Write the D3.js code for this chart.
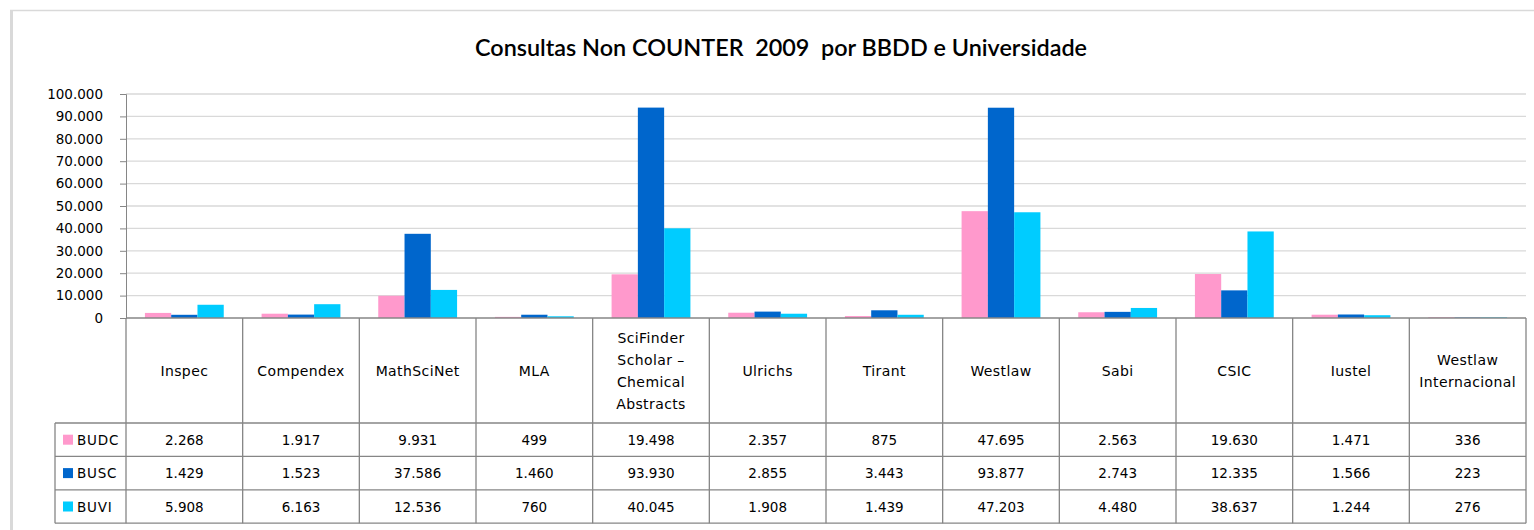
<!DOCTYPE html>
<html>
<head>
<meta charset="utf-8">
<script src="https://cdn.jsdelivr.net/npm/d3@7"></script>
<style>
  body { margin: 0; background: #fff; }
  svg text { font-family: "DejaVu Sans", sans-serif; fill: #000; }
</style>
</head>
<body>
<div id="chart"></div>
<script>
// data
var categories = ["Inspec", "Compendex", "MathSciNet", "MLA", "SciFinder\nScholar \u2013\nChemical\nAbstracts",
                  "Ulrichs", "Tirant", "Westlaw", "Sabi", "CSIC", "Iustel", "Westlaw\nInternacional"];
var seriesNames = ["BUDC", "BUSC", "BUVI"];
var seriesColors = ["#ff99cc", "#0066cc", "#00ccff"];
var budc = [2268, 1917, 9931, 499, 19498, 2357, 875, 47695, 2563, 19630, 1471, 336];
var busc = [1429, 1523, 37586, 1460, 93930, 2855, 3443, 93877, 2743, 12335, 1566, 223];
var buvi = [5908, 6163, 12536, 760, 40045, 1908, 1439, 47203, 4480, 38637, 1244, 276];
var yTicks = [0, 10000, 20000, 30000, 40000, 50000, 60000, 70000, 80000, 90000, 100000];
var title = "Consultas Non COUNTER  2009  por BBDD e Universidade";

var values = [budc, busc, buvi];

var width = 1534, height = 530;
var plot = {left: 126, right: 1526, top: 94, bottom: 318};
var table = {left: 55, header: 423, rowH: 33.4};

var fmt = d3.formatLocale({decimal: ",", thousands: ".", grouping: [3], currency: ["", ""]}).format(",d");

var svg = d3.select("#chart").append("svg")
    .attr("width", width)
    .attr("height", height);

// frame
svg.append("line").attr("x1", 10).attr("x2", width).attr("y1", 10.5).attr("y2", 10.5)
    .style("stroke", "#d9d9d9").style("stroke-width", 1.5);
svg.append("line").attr("x1", 11.5).attr("x2", 11.5).attr("y1", 10).attr("y2", height)
    .style("stroke", "#d9d9d9").style("stroke-width", 3);

svg.append("text")
    .attr("x", 781).attr("y", 56)
    .attr("text-anchor", "middle")
    .style("font-family", "Lato, 'Open Sans', sans-serif")
    .style("font-size", "22px")
    .style("font-weight", 600)
    .style("white-space", "pre")
    .attr("textLength", 612)
    .attr("lengthAdjust", "spacingAndGlyphs")
    .text(title);

var x = d3.scaleBand().domain(d3.range(categories.length)).range([plot.left, plot.right]);
var xs = d3.scaleBand().domain(seriesNames).range([0, x.bandwidth()]).paddingOuter(0.72).paddingInner(0);
var y = d3.scaleLinear().domain([0, 100000]).range([plot.bottom, plot.top]);

// gridlines
svg.append("g").selectAll("line")
    .data(yTicks.slice(1))
    .enter().append("line")
    .attr("x1", plot.left).attr("x2", plot.right)
    .attr("y1", function(d) { return y(d); })
    .attr("y2", function(d) { return y(d); })
    .style("stroke", "#d9d9d9")
    .style("stroke-width", 1.3);

// y axis
var yAxis = svg.append("g")
    .attr("transform", "translate(" + plot.left + ",0)")
    .call(d3.axisLeft(y).tickValues(yTicks).tickFormat(fmt).tickSize(6).tickPadding(17));
yAxis.select(".domain").style("stroke", "#868686");
yAxis.selectAll(".tick line").style("stroke", "#868686");
yAxis.selectAll("text").style("font-size", "13.5px").style("font-family", "'DejaVu Sans', sans-serif");

// bars
var groups = svg.append("g").selectAll("g")
    .data(seriesNames)
    .enter().append("g")
    .style("fill", function(d, i) { return seriesColors[i]; });

groups.selectAll("rect")
    .data(function(d, i) { return values[i].map(function(v, j) { return {s: d, v: v, c: j}; }); })
    .enter().append("rect")
    .attr("x", function(d) { return x(d.c) + xs(d.s); })
    .attr("width", xs.bandwidth())
    .attr("y", function(d) { return y(d.v); })
    .attr("height", function(d) { return y(0) - y(d.v); });

// data table
var lineColor = "#868686";
var tableBottom = table.header + table.rowH * seriesNames.length;
var grid = svg.append("g").style("stroke", lineColor).style("stroke-width", 1.3);

grid.append("line").attr("x1", plot.left).attr("x2", plot.right)
    .attr("y1", plot.bottom).attr("y2", plot.bottom);
d3.range(seriesNames.length + 1).forEach(function(r) {
  var yy = table.header + r * table.rowH;
  grid.append("line").attr("x1", table.left).attr("x2", plot.right).attr("y1", yy).attr("y2", yy);
});
d3.range(categories.length + 1).forEach(function(c) {
  var xx = c < categories.length ? x(c) : plot.right;
  grid.append("line").attr("x1", xx).attr("x2", xx).attr("y1", plot.bottom).attr("y2", tableBottom);
});
grid.append("line").attr("x1", table.left).attr("x2", table.left).attr("y1", table.header).attr("y2", tableBottom);

// category labels
var headMid = (plot.bottom + table.header) / 2;
categories.forEach(function(cat, i) {
  var lines = cat.split("\n");
  var t = svg.append("text")
      .attr("text-anchor", "middle")
      .style("font-size", "14px")
      .style("letter-spacing", "0.4px");
  lines.forEach(function(l, k) {
    t.append("tspan")
        .attr("x", x(i) + x.bandwidth() / 2)
        .attr("y", headMid + 5 + (k - (lines.length - 1) / 2) * 22)
        .text(l);
  });
});

// legend column and values
seriesNames.forEach(function(s, r) {
  var mid = table.header + (r + 0.5) * table.rowH;
  svg.append("rect").attr("x", 63).attr("y", mid - 5).attr("width", 10).attr("height", 10)
      .style("fill", seriesColors[r]);
  svg.append("text").attr("x", 77).attr("y", mid + 5)
      .style("font-size", "13.5px").style("letter-spacing", "0.8px").text(s);
  svg.append("g").selectAll("text")
      .data(values[r])
      .enter().append("text")
      .attr("x", function(d, j) { return x(j) + x.bandwidth() / 2; })
      .attr("y", mid + 5)
      .attr("text-anchor", "middle")
      .style("font-size", "13.5px")
      .text(function(d) { return fmt(d); });
});
</script>
</body>
</html>
